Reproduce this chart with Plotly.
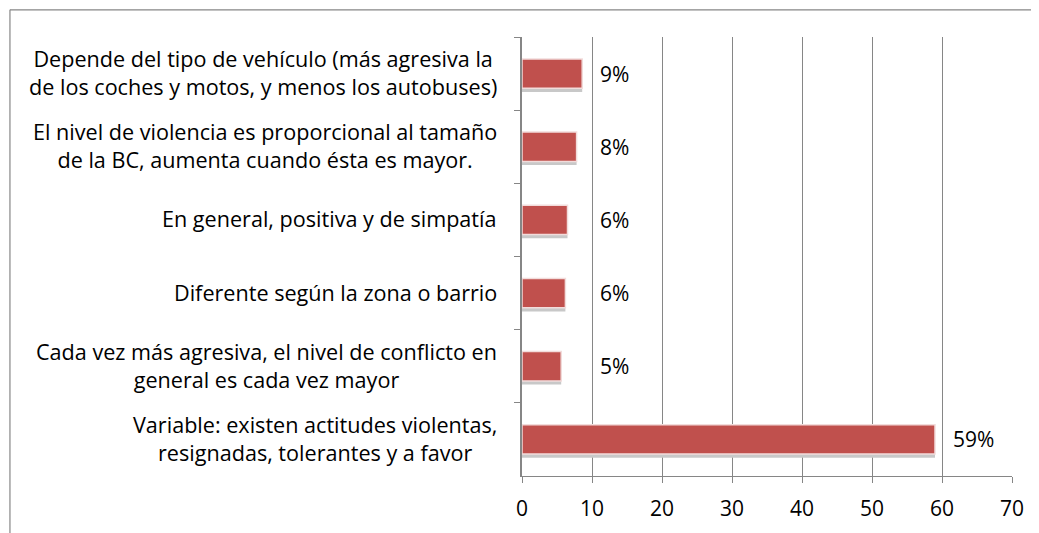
import plotly.graph_objects as go

categories = [
    "Depende del tipo de vehículo (más agresiva la<br>de los coches y motos, y menos los autobuses)",
    "El nivel de violencia es proporcional al tamaño<br>de la BC, aumenta cuando ésta es mayor.",
    "En general, positiva y de simpatía",
    "Diferente según la zona o barrio",
    "Cada vez más agresiva, el nivel de conflicto en<br>general es cada vez mayor",
    "Variable: existen actitudes violentas,<br>resignadas, tolerantes y a favor",
]
values = [8.6, 7.8, 6.5, 6.2, 5.6, 59.0]
labels = ["9%", "8%", "6%", "6%", "5%", "59%"]
x_ticks = [0, 10, 20, 30, 40, 50, 60, 70]

font = "'Open Sans', Calibri, sans-serif"
grey = "#868686"

fig = go.Figure()
# soft shadow under each bar
fig.add_trace(go.Bar(
    x=values, y=categories, orientation="h", width=0.4, offset=-0.15,
    marker=dict(color="#C8C8C8", line=dict(width=0)),
    hoverinfo="skip", showlegend=False,
))
fig.add_trace(go.Bar(
    x=values, y=categories, orientation="h", width=0.4, offset=-0.2,
    marker=dict(color="#C0504D", line=dict(color="#F2DCDB", width=1.5)),
    hoverinfo="skip", showlegend=False,
))

for v, c, t in zip(values, categories, labels):
    # data labels (small ones sit just past the 10 gridline as in the original)
    fig.add_annotation(x=max(v, 8.6), y=c, text=t, showarrow=False, xanchor="left",
                       xshift=16, font=dict(family=font, size=21, color="black"))
    # category labels, centred lines like the Excel chart
    fig.add_annotation(x=0, xref="paper", y=c, text=c, showarrow=False,
                       xanchor="right", align="center", xshift=-23, yshift=1,
                       font=dict(family=font, size=21.6, color="black"))

# outer chart frame
fig.add_shape(type="line", xref="paper", yref="paper", x0=-1.045, x1=1.1,
              y0=1.062, y1=1.062, line=dict(color=grey, width=1.2))
fig.add_shape(type="line", xref="paper", yref="paper", x0=-1.045, x1=-1.045,
              y0=1.062, y1=-0.2, line=dict(color=grey, width=1.2))

# page body adds 8px margin, so figure is a bit smaller and shifted
fig.update_layout(
    width=1031, height=525,
    margin=dict(l=514, r=27, t=29, b=57),
    plot_bgcolor="white", paper_bgcolor="white",
    font=dict(family=font, size=21, color="black"),
    barmode="overlay",
)
fig.update_xaxes(
    range=[0, 70], tickvals=x_ticks, showgrid=True, gridcolor=grey, gridwidth=1,
    showline=True, linecolor=grey, linewidth=1, ticks="outside", ticklen=6,
    tickcolor=grey, zeroline=False, ticklabelstandoff=8,
)
fig.update_yaxes(
    autorange="reversed", showline=True, linecolor=grey, linewidth=1.5,
    ticks="outside", ticklen=6, tickcolor=grey, tickson="boundaries",
    showgrid=False, showticklabels=False,
)

fig.write_html("out.html")
